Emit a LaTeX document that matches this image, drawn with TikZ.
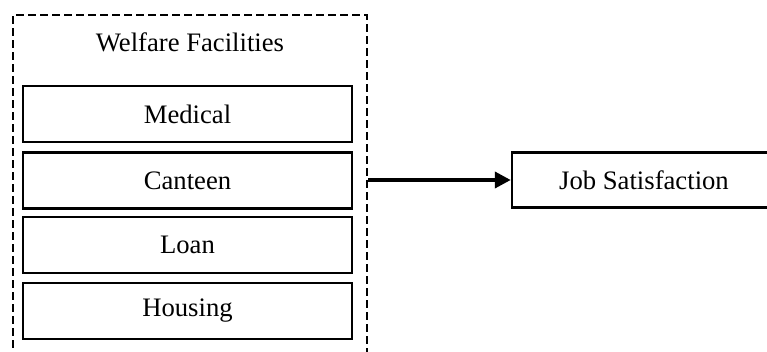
\documentclass[tikz,border=0pt]{standalone}
\usepackage{fontspec}
\setmainfont{Liberation Serif}
\usepackage{tikz}
\usetikzlibrary{arrows.meta}
\tikzset{
  item box/.style = {draw, line width=1.8pt, minimum width=246.75pt, minimum height=42pt, inner sep=0pt, font=\fontsize{20}{24}\selectfont},
  group box/.style = {draw, line width=1.6pt, dash pattern=on 5.5pt off 3.5pt, minimum width=265.5pt, minimum height=260pt, inner sep=0pt},
  title text/.style = {inner sep=0pt, font=\fontsize{20}{24}\selectfont}
}

\begin{document}
\begin{tikzpicture}[x=0.75pt, y=0.75pt]
  \useasboundingbox (0,0) rectangle (767,351);

  \node[group box, anchor=north west] (welfare) at (12,337) {};
  \node[title text] (title) at (190,309) {Welfare Facilities};

  \node[item box] (med) at (187.5,237) {Medical};
  \node[item box] (cant) at (187.5,170.5) {Canteen};
  \node[item box] (loan) at (187.5,106) {Loan};
  \node[item box] (hous) at (187.5,40) {Housing};

  \node[item box, minimum width=198pt, minimum height=41.25pt] (job) at (644,171) {Job Satisfaction};

  \draw[line width=2.8pt, -{Triangle[length=12pt, width=12pt]}] (welfare.east |- job.west) -- (job.west);

\end{tikzpicture}
\end{document}
